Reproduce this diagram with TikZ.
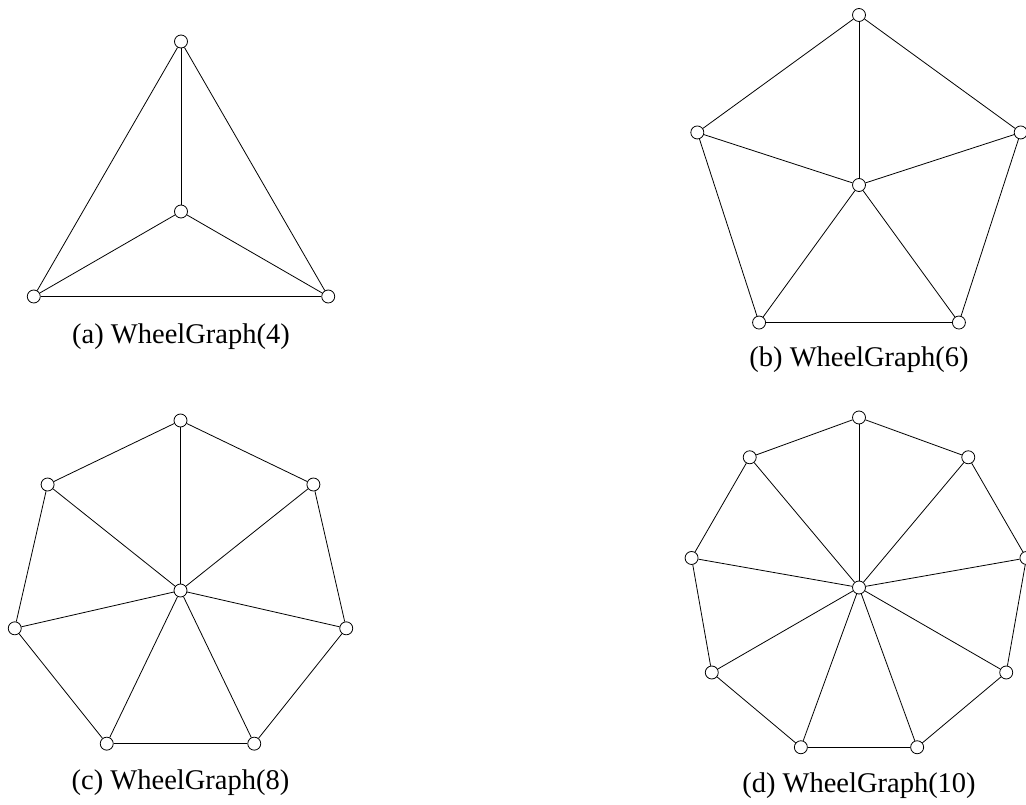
\documentclass[tikz,border=0pt]{standalone}
\usepackage{fontspec}
\setmainfont{Liberation Serif}
\begin{document}
\begin{tikzpicture}[x=1pt,y=1pt,
  vtx/.style={circle,draw,fill=white,inner sep=0pt,minimum size=13pt,line width=0.8pt},
  edge/.style={line width=0.8pt},
  captxt/.style={anchor=base,font=\fontsize{28.5}{34}\selectfont,inner sep=0pt}]
\useasboundingbox (0,0) rectangle (1026,804);
% (a) WheelGraph(4)
\begin{scope}[shift={(181,592.5)}]
  \node[vtx] (a0) at (0,0) {};
  \foreach \i in {1,...,3} \node[vtx] (a\i) at ({90+(\i-1)*120}:170) {};
  \foreach \i/\j in {1/2,2/3,3/1} \draw[edge] (a\i) -- (a\j);
  \foreach \i in {1,...,3} \draw[edge] (a0) -- (a\i);
\end{scope}
\node[captxt] (capa) at (181,460) {(a) WheelGraph(4)};
% (b) WheelGraph(6)
\begin{scope}[shift={(859,619)}]
  \node[vtx] (b0) at (0,0) {};
  \foreach \i in {1,...,5} \node[vtx] (b\i) at ({90+(\i-1)*72}:170) {};
  \foreach \i/\j in {1/2,2/3,3/4,4/5,5/1} \draw[edge] (b\i) -- (b\j);
  \foreach \i in {1,...,5} \draw[edge] (b0) -- (b\i);
\end{scope}
\node[captxt] (capb) at (859,437) {(b) WheelGraph(6)};
% (c) WheelGraph(8)
\begin{scope}[shift={(180.5,213.5)}]
  \node[vtx] (c0) at (0,0) {};
  \foreach \i in {1,...,7} \node[vtx] (c\i) at ({90+(\i-1)*360/7}:170) {};
  \foreach \i/\j in {1/2,2/3,3/4,4/5,5/6,6/7,7/1} \draw[edge] (c\i) -- (c\j);
  \foreach \i in {1,...,7} \draw[edge] (c0) -- (c\i);
\end{scope}
\node[captxt] (capc) at (180.5,15) {(c) WheelGraph(8)};
% (d) WheelGraph(10)
\begin{scope}[shift={(859,216.5)}]
  \node[vtx] (d0) at (0,0) {};
  \foreach \i in {1,...,9} \node[vtx] (d\i) at ({90+(\i-1)*40}:170) {};
  \foreach \i/\j in {1/2,2/3,3/4,4/5,5/6,6/7,7/8,8/9,9/1} \draw[edge] (d\i) -- (d\j);
  \foreach \i in {1,...,9} \draw[edge] (d0) -- (d\i);
\end{scope}
\node[captxt] (capd) at (859,12) {(d) WheelGraph(10)};
\end{tikzpicture}
\end{document}
